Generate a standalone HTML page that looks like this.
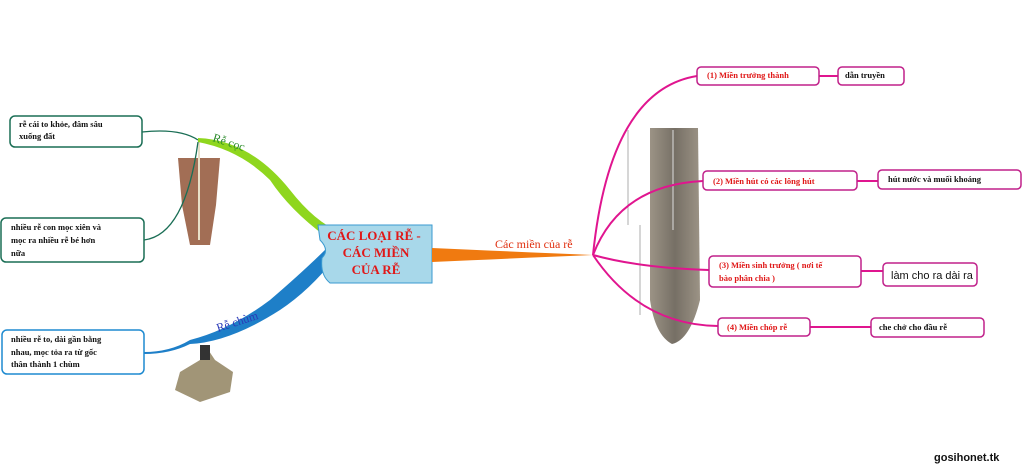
<!DOCTYPE html>
<html><head><meta charset="utf-8"><style>
html,body{margin:0;padding:0;background:#fff;}
svg{display:block}
text{font-family:"Liberation Serif",serif;}
text.sans{font-family:"Liberation Sans",sans-serif;}
</style></head><body>
<svg width="1023" height="467" viewBox="0 0 1023 467" xmlns="http://www.w3.org/2000/svg">
<defs>
<linearGradient id="rt" x1="0" x2="1"><stop offset="0" stop-color="#8a8070"/><stop offset="0.5" stop-color="#5e564a"/><stop offset="1" stop-color="#8a8070"/></linearGradient>
</defs>
<path d="M650 128 L698 128 L700 300 Q690 340 672 344 Q655 335 650 300 Z" fill="url(#rt)" opacity="0.85"/>
<line x1="673" y1="130" x2="673" y2="230" stroke="#ddd" stroke-width="1"/>
<line x1="628" y1="130" x2="628" y2="225" stroke="#999" stroke-width="0.8"/>
<line x1="640" y1="225" x2="640" y2="315" stroke="#999" stroke-width="0.8"/>
<path d="M178 158 L220 158 L216 205 L210 245 L190 245 L182 205 Z" fill="#8b4a2a" opacity="0.8"/>
<line x1="199" y1="140" x2="199" y2="240" stroke="#e8e0c8" stroke-width="2"/>
<path d="M205 345 L200 360 L180 372 L175 390 L200 402 L230 392 L233 372 L215 360 Z" fill="#8a7a55" opacity="0.8"/>
<path d="M200 345 h10 v15 h-10z" fill="#333"/>
<path d="M142 132 Q180 128 198 140" stroke="#1a6e55" stroke-width="1.3" fill="none"/>
<path d="M144 240 Q185 235 198 142" stroke="#1a6e55" stroke-width="1.3" fill="none"/>
<path d="M198 138 Q250 140 290 190 Q315 222 340 232 L325 236 Q290 210 270 180 Q240 150 198 142 Z" fill="#8fd61e"/>
<path d="M144 352 Q170 352 190 340 Q230 330 270 300 Q305 270 330 245 L335 258 Q310 290 280 310 Q230 342 190 344 Q170 354 144 354 Z" fill="#1e7fc8"/>
<path d="M318 225 L432 225 L432 283 L330 283 Q320 275 322 258 Q330 250 320 240 Z" fill="#a8d8ea" stroke="#3a9ad0" stroke-width="1"/>
<text font-size="13" fill="#e01818" text-anchor="middle" font-weight="bold"><tspan x="374" y="240">CÁC LOẠI RỄ -</tspan><tspan x="376" y="257">CÁC MIỀN</tspan><tspan x="376" y="274">CỦA RỄ</tspan></text>
<path d="M432 248 Q520 252 593 255 Q520 258 432 262 Z" fill="#f07a10"/>
<text x="495" y="248" font-size="12" fill="#e03010">Các miền của rễ</text>
<g stroke="#e0158f" stroke-width="2" fill="none">
<path d="M593 255 Q610 90 697 76"/>
<path d="M593 255 Q620 185 703 181"/>
<path d="M593 255 Q640 268 709 270"/>
<path d="M593 255 Q640 325 718 326"/>
<path d="M819 76 H838"/><path d="M857 181 H878"/><path d="M861 271 H883"/><path d="M810 327 H871"/>
</g>
<text x="212" y="141" font-size="12" fill="#2a8a2a" transform="rotate(18 212 141)">Rễ cọc</text>
<text x="218" y="332" font-size="12" fill="#2a3ab8" transform="rotate(-18 218 332)">Rễ chùm</text>
<g fill="#fff" stroke-width="1.5">
<rect x="10" y="116" width="132" height="31" rx="5" stroke="#1a6e55"/>
<rect x="1" y="218" width="143" height="44" rx="5" stroke="#1a6e55"/>
<rect x="2" y="330" width="142" height="44" rx="5" stroke="#1e8ad0"/>
<rect x="697" y="67" width="122" height="18" rx="4" stroke="#c0208a"/>
<rect x="838" y="67" width="66" height="18" rx="4" stroke="#c0208a"/>
<rect x="703" y="171" width="154" height="19" rx="4" stroke="#c0208a"/>
<rect x="878" y="170" width="143" height="19" rx="4" stroke="#c0208a"/>
<rect x="709" y="256" width="152" height="31" rx="4" stroke="#c0208a"/>
<rect x="883" y="263" width="94" height="23" rx="4" stroke="#c0208a"/>
<rect x="718" y="318" width="92" height="18" rx="4" stroke="#c0208a"/>
<rect x="871" y="318" width="113" height="19" rx="4" stroke="#c0208a"/>
</g>
<g font-size="8.5" font-weight="bold" fill="#111">
<text x="19" y="127">rễ cái to khỏe, đâm sâu</text><text x="19" y="139">xuống đất</text>
<text x="11" y="230">nhiều rễ con mọc xiên và</text><text x="11" y="243">mọc ra nhiều rễ bé hơn</text><text x="11" y="256">nữa</text>
<text x="11" y="342">nhiều rễ to, dài gần bằng</text><text x="11" y="355">nhau, mọc tỏa ra từ gốc</text><text x="11" y="367">thân thành 1 chùm</text>
<text x="845" y="78">dẫn truyền</text>
<text x="888" y="182">hút nước và muối khoáng</text>
<text x="879" y="330">che chở cho đầu rễ</text>
</g>
<g font-size="8.5" font-weight="bold" fill="#e01818">
<text x="707" y="78">(1) Miền trưởng thành</text>
<text x="713" y="184">(2) Miền hút có các lông hút</text>
<text x="719" y="268">(3) Miền sinh trưởng ( nơi tế</text><text x="719" y="281">bào phân chia )</text>
<text x="727" y="330">(4) Miền chóp rễ</text>
</g>
<text class="sans" x="891" y="279" font-size="11" fill="#111">làm cho ra dài ra</text>
<text class="sans" x="934" y="461" font-size="11" font-weight="bold" fill="#111">gosihonet.tk</text>
</svg>
</body></html>
